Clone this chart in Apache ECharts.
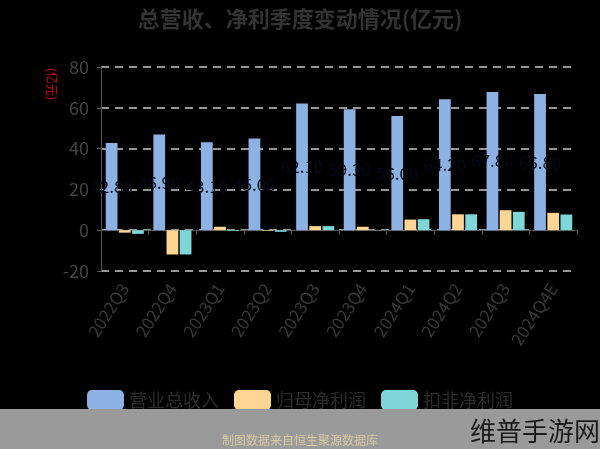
<!DOCTYPE html>
<html>
<head>
<meta charset="utf-8">
<script src="https://cdn.jsdelivr.net/npm/echarts@6/dist/echarts.min.js"></script>
<style>
html,body{margin:0;padding:0;background:#000;}
#c{width:600px;height:449px;}
</style>
</head>
<body>
<div id="c"></div>
<script>
var categories = ['2022Q3','2022Q4','2023Q1','2023Q2','2023Q3','2023Q4','2024Q1','2024Q2','2024Q3','2024Q4E'];
var revenue = [42.8, 46.9, 43.1, 45.0, 62.1, 59.3, 56.0, 64.2, 67.8, 66.8];
var netProfit = [-1.2, -11.9, 1.7, -0.3, 2.0, 1.7, 5.2, 7.8, 9.8, 8.5];
var deductedProfit = [-1.8, -11.9, -0.3, -0.8, 2.0, 0.1, 5.4, 7.8, 9.0, 7.7];
var yTicks = [-20, 0, 20, 40, 60, 80];
var seriesNames = ['营业总收入', '归母净利润', '扣非净利润'];

var chart = echarts.init(document.getElementById('c'), null, {renderer: 'canvas'});
var font = '"Noto Sans CJK SC", "Noto Sans", sans-serif';
chart.setOption({
  backgroundColor: '#000',
  animation: false,
  title: {
    text: '总营收、净利季度变动情况(亿元)',
    left: 'center',
    top: 3,
    textStyle: {color: '#333', fontSize: 22, fontWeight: 'bold', fontFamily: font}
  },
  legend: {
    bottom: 34,
    left: 'center',
    itemWidth: 37,
    itemHeight: 20,
    itemGap: 15,
    textStyle: {color: '#2c2c2c', fontSize: 18, fontFamily: font},
    data: seriesNames
  },
  grid: {left: 101, right: 23, top: 67, bottom: 178},
  xAxis: {
    type: 'category',
    data: categories,
    axisLine: {lineStyle: {color: '#555', width: 1}},
    axisTick: {show: true, length: 5, lineStyle: {color: '#555'}},
    axisLabel: {color: '#383838', fontSize: 17, rotate: 57, margin: 14, fontFamily: font, interval: 0}
  },
  yAxis: {
    type: 'value',
    min: yTicks[0],
    max: yTicks[yTicks.length - 1],
    interval: 20,
    axisLine: {show: true, lineStyle: {color: '#555'}},
    axisTick: {show: true, length: 4, lineStyle: {color: '#555'}},
    axisLabel: {color: '#444', fontSize: 18, margin: 12, fontFamily: font},
    splitLine: {show: true, lineStyle: {color: '#c8c8c8', type: [8, 6], width: 1.5}}
  },
  series: [
    {
      name: seriesNames[0], type: 'bar', data: revenue,
      barCategoryGap: '20%', barGap: '12%',
      itemStyle: {color: '#8DB1E2'},
      label: {show: true, position: 'inside', color: '#040a18', textBorderWidth: 0, textBorderColor: 'transparent',
        fontSize: 17, fontFamily: font,
        formatter: function (p) { return p.value.toFixed(2); }},
      z: 2
    },
    {
      name: seriesNames[1], type: 'bar', data: netProfit,
      itemStyle: {color: '#FED593'}, z: 3
    },
    {
      name: seriesNames[2], type: 'bar', data: deductedProfit,
      itemStyle: {color: '#7ED6D8'}, z: 3
    }
  ],
  graphic: [
    {
      type: 'text', left: 46, top: 68, rotation: -Math.PI / 2,
      style: {text: '(亿元)', fill: '#d00', fontSize: 12, fontFamily: font}
    },
    {
      type: 'rect', left: 0, top: 409, z: 10,
      shape: {width: 600, height: 40},
      style: {fill: '#9a9a9a'}
    },
    {
      type: 'text', left: 'center', top: 434, z: 11,
      style: {text: '制图数据来自恒生聚源数据库', fill: '#d9c9a3', fontSize: 12, fontFamily: font}
    },
    {
      type: 'text', left: 470, top: 418, z: 11,
      style: {text: '维普手游网', fill: '#1a1a1a', fontSize: 26, fontFamily: font}
    }
  ]
});
</script>
</body>
</html>
